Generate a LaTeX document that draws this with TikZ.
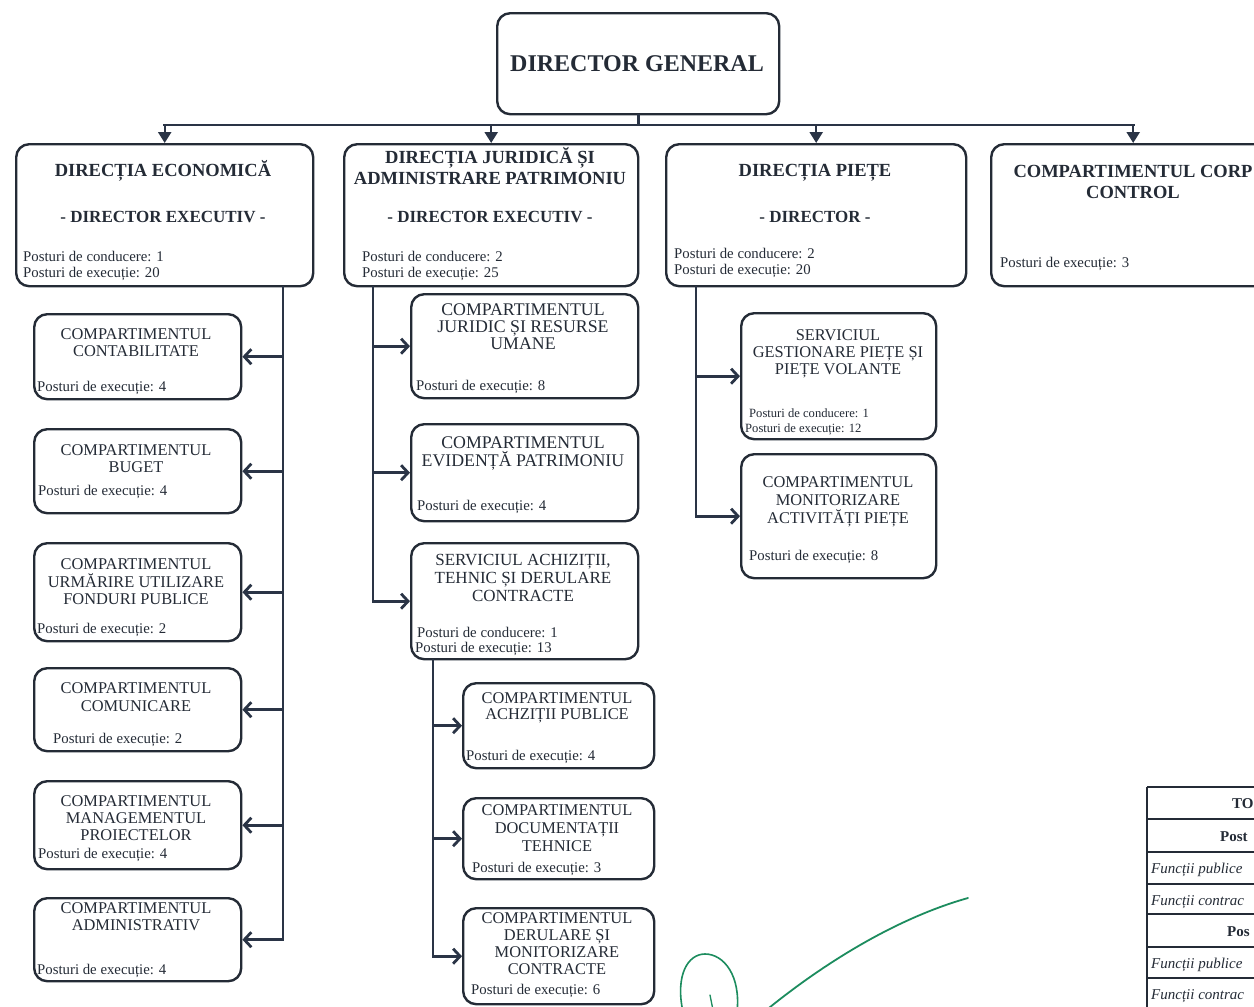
\documentclass[tikz,border=0pt]{standalone}
\usepackage{fontspec}
\setmainfont{Liberation Serif}
\usetikzlibrary{arrows.meta}
\definecolor{ink}{HTML}{242B36}
\definecolor{wirec}{HTML}{2A3446}
\definecolor{penc}{HTML}{1C8C5E}
\newcommand\fs[1]{\fontsize{#1}{#1}\selectfont}
\begin{document}
\begin{tikzpicture}[x=1pt,y=-1pt,
  box/.style={draw=ink,line width=2.4pt,rounded corners=13pt,inner sep=0pt,anchor=north west,fill=white},
  wire/.style={draw=wirec,line width=2.8pt,line cap=rect},
  darr/.style={draw=wirec,line width=2.4pt,-{Triangle[length=11pt,width=13pt]}},
  sarr/.style={draw=wirec,line width=2.8pt,-{Straight Barb[length=7pt,width=15pt]}},
  tabl/.style={draw=ink,line width=1.2pt},
  pen/.style={draw=penc,line cap=round},
  tc/.style={inner sep=0pt,anchor=base,text=ink},
  tw/.style={inner sep=0pt,anchor=base west,text=ink},
  dgf/.style={font=\fs{24}\bfseries},
  big/.style={font=\fs{18.5}\bfseries},
  sub/.style={font=\fs{17}\bfseries},
  pt/.style={font=\fs{14.8}},
  ttl/.style={font=\fs{16.4}},
  ttlb/.style={font=\fs{17.8}},
  ttlm/.style={font=\fs{17}},
  sp/.style={font=\fs{14.8}},
  sps/.style={font=\fs{12.6}},
  tb/.style={font=\fs{15}\bfseries},
  ti/.style={font=\fs{15}\itshape}]
\useasboundingbox (0,0) rectangle (1254,1007);
\clip (0,0) rectangle (1254,1007);
\fill[white] (0,0) rectangle (1254,1007);

% ---------- boxes
\node[box,minimum width=282pt,minimum height=101pt] (dg) at (496,12) {};
\node[box,minimum width=297pt,minimum height=142pt] (econ) at (15,143) {};
\node[box,minimum width=294pt,minimum height=142pt] (jur) at (343,143) {};
\node[box,minimum width=300pt,minimum height=142pt] (piete) at (665,143) {};
\node[box,minimum width=284pt,minimum height=142pt] (corp) at (990,143) {};
\node[box,minimum width=207pt,minimum height=85pt] (contab) at (33,313) {};
\node[box,minimum width=207pt,minimum height=84pt] (buget) at (33,428) {};
\node[box,minimum width=207pt,minimum height=98pt] (urm) at (33,542) {};
\node[box,minimum width=207pt,minimum height=83pt] (comun) at (33,667) {};
\node[box,minimum width=207pt,minimum height=88pt] (manag) at (33,780) {};
\node[box,minimum width=207pt,minimum height=83pt] (admin) at (33,897) {};
\node[box,minimum width=227pt,minimum height=104pt] (juridic) at (410,293) {};
\node[box,minimum width=227pt,minimum height=97pt] (evid) at (410,423) {};
\node[box,minimum width=227pt,minimum height=116pt] (achiz) at (410,542) {};
\node[box,minimum width=191pt,minimum height=85pt] (achzp) at (462,682) {};
\node[box,minimum width=191pt,minimum height=81pt] (docum) at (462,797) {};
\node[box,minimum width=191pt,minimum height=96pt] (derul) at (462,907) {};
\node[box,minimum width=195pt,minimum height=126pt] (serv) at (740,312) {};
\node[box,minimum width=195pt,minimum height=124pt] (monit) at (740,453) {};

% ---------- connectors
\coordinate (bus) at (0,125);
\coordinate (ev) at (283,0);
\coordinate (jv) at (373,0);
\coordinate (av) at (433,0);
\coordinate (pv) at (696,0);
\draw[wire] (dg.south) -- (dg.south |- bus);
\draw[wire] (econ.north |- bus) -- (corp.north |- bus);
\foreach \n in {econ,jur,piete,corp} \draw[darr] (\n.north |- bus) -- (\n.north);
\draw[wire] (econ.south -| ev) -- (ev |- admin.east);
\foreach \n in {contab,buget,urm,comun,manag,admin} \draw[sarr] (ev |- \n.east) -- (\n.east);
\draw[wire] (jur.south -| jv) -- (jv |- achiz.west);
\foreach \n in {juridic,evid,achiz} \draw[sarr] (jv |- \n.west) -- (\n.west);
\draw[wire] (achiz.south -| av) -- (av |- derul.west);
\foreach \n in {achzp,docum,derul} \draw[sarr] (av |- \n.west) -- (\n.west);
\draw[wire] (piete.south -| pv) -- (pv |- monit.west);
\foreach \n in {serv,monit} \draw[sarr] (pv |- \n.west) -- (\n.west);

% ---------- texts: top level
\node[tc,dgf] (dgT) at (637,71) {DIRECTOR GENERAL};

\node[tc,big] (ecT1) at (163,176) {DIRECȚIA ECONOMICĂ};
\node[tc,sub] (ecT2) at (163,222) {- DIRECTOR EXECUTIV -};
\node[tw,pt] (ecP1) at (23,261) {Posturi de conducere: 1};
\node[tw,pt] (ecP2) at (23,277) {Posturi de execuție: 20};

\node[tc,big] (juT1) at (490,163) {DIRECȚIA JURIDICĂ ȘI};
\node[tc,big] (juT2) at (490,184) {ADMINISTRARE PATRIMONIU};
\node[tc,sub] (juT3) at (490,222) {- DIRECTOR EXECUTIV -};
\node[tw,pt] (juP1) at (362,261) {Posturi de conducere: 2};
\node[tw,pt] (juP2) at (362,277) {Posturi de execuție: 25};

\node[tc,big] (piT1) at (815,176) {DIRECȚIA PIEȚE};
\node[tc,sub] (piT2) at (815,222) {- DIRECTOR -};
\node[tw,pt] (piP1) at (674,258) {Posturi de conducere: 2};
\node[tw,pt] (piP2) at (674,274) {Posturi de execuție: 20};

\node[tc,big] (coT1) at (1133,177) {COMPARTIMENTUL CORP};
\node[tc,big] (coT2) at (1133,198) {CONTROL};
\node[tw,pt] (coP1) at (1000,267) {Posturi de execuție: 3};

% ---------- texts: economic column
\node[tc,ttl] (caT1) at (136,339) {COMPARTIMENTUL};
\node[tc,ttl] (caT2) at (136,356) {CONTABILITATE};
\node[tw,sp] (caP) at (37,391) {Posturi de execuție: 4};

\node[tc,ttl] (buT1) at (136,455) {COMPARTIMENTUL};
\node[tc,ttl] (buT2) at (136,472) {BUGET};
\node[tw,sp] (buP) at (38,495) {Posturi de execuție: 4};

\node[tc,ttl] (urT1) at (136,569) {COMPARTIMENTUL};
\node[tc,ttl] (urT2) at (136,587) {URMĂRIRE UTILIZARE};
\node[tc,ttl] (urT3) at (136,604) {FONDURI PUBLICE};
\node[tw,sp] (urP) at (37,633) {Posturi de execuție: 2};

\node[tc,ttl] (cmT1) at (136,693) {COMPARTIMENTUL};
\node[tc,ttl] (cmT2) at (136,711) {COMUNICARE};
\node[tw,sp] (cmP) at (53,743) {Posturi de execuție: 2};

\node[tc,ttl] (mgT1) at (136,806) {COMPARTIMENTUL};
\node[tc,ttl] (mgT2) at (136,823) {MANAGEMENTUL};
\node[tc,ttl] (mgT3) at (136,840) {PROIECTELOR};
\node[tw,sp] (mgP) at (38,858) {Posturi de execuție: 4};

\node[tc,ttl] (adT1) at (136,913) {COMPARTIMENTUL};
\node[tc,ttl] (adT2) at (136,930) {ADMINISTRATIV};
\node[tw,sp] (adP) at (37,974) {Posturi de execuție: 4};

% ---------- texts: juridic column
\node[tc,ttlb] (jrT1) at (523,315) {COMPARTIMENTUL};
\node[tc,ttlb] (jrT2) at (523,332) {JURIDIC ȘI RESURSE};
\node[tc,ttlb] (jrT3) at (523,349) {UMANE};
\node[tw,sp] (jrP) at (416,390) {Posturi de execuție: 8};

\node[tc,ttlb] (evT1) at (523,448) {COMPARTIMENTUL};
\node[tc,ttlb] (evT2) at (523,466) {EVIDENȚĂ PATRIMONIU};
\node[tw,sp] (evP) at (417,510) {Posturi de execuție: 4};

\node[tc,ttlm] (acT1) at (523,565) {SERVICIUL ACHIZIȚII,};
\node[tc,ttlm] (acT2) at (523,583) {TEHNIC ȘI DERULARE};
\node[tc,ttlm] (acT3) at (523,601) {CONTRACTE};
\node[tw,sp] (acP1) at (417,637) {Posturi de conducere: 1};
\node[tw,sp] (acP2) at (415,652) {Posturi de execuție: 13};

\node[tc,ttl] (apT1) at (557,703) {COMPARTIMENTUL};
\node[tc,ttl] (apT2) at (557,719) {ACHZIȚII PUBLICE};
\node[tw,sp] (apP) at (466,760) {Posturi de execuție: 4};

\node[tc,ttl] (doT1) at (557,815) {COMPARTIMENTUL};
\node[tc,ttl] (doT2) at (557,833) {DOCUMENTAȚII};
\node[tc,ttl] (doT3) at (557,851) {TEHNICE};
\node[tw,sp] (doP) at (472,872) {Posturi de execuție: 3};

\node[tc,ttl] (deT1) at (557,923) {COMPARTIMENTUL};
\node[tc,ttl] (deT2) at (557,940) {DERULARE ȘI};
\node[tc,ttl] (deT3) at (557,957) {MONITORIZARE};
\node[tc,ttl] (deT4) at (557,974) {CONTRACTE};
\node[tw,sp] (deP) at (471,994) {Posturi de execuție: 6};

% ---------- texts: piete column
\node[tc,ttl] (seT1) at (838,340) {SERVICIUL};
\node[tc,ttl] (seT2) at (838,357) {GESTIONARE PIEȚE ȘI};
\node[tc,ttl] (seT3) at (838,374) {PIEȚE VOLANTE};
\node[tw,sps] (seP1) at (749,417) {Posturi de conducere: 1};
\node[tw,sps] (seP2) at (745,432) {Posturi de execuție: 12};

\node[tc,ttl] (moT1) at (838,487) {COMPARTIMENTUL};
\node[tc,ttl] (moT2) at (838,505) {MONITORIZARE};
\node[tc,ttl] (moT3) at (838,523) {ACTIVITĂȚI PIEȚE};
\node[tw,sp] (moP) at (749,560) {Posturi de execuție: 8};

% ---------- table (cut by the edge)
\draw[tabl] (1147,787) -- (1147,1012);
\foreach \y in {787,819,852,884,914,947,978} \draw[tabl] (1147,\y) -- (1260,\y);
\node[tw,tb] (tbA) at (1232,808) {TO};
\node[tw,tb] (tbB) at (1220,841) {Post};
\node[tw,ti] (tbC) at (1151,873) {Funcții publice};
\node[tw,ti] (tbD) at (1151,905) {Funcții contrac};
\node[tw,tb] (tbE) at (1227,936) {Pos};
\node[tw,ti] (tbF) at (1151,968) {Funcții publice};
\node[tw,ti] (tbG) at (1151,999) {Funcții contrac};

% ---------- green pen marks
\draw[pen,line width=1.6pt] (683,1012) .. controls (675,975) and (688,954) .. (705,954) .. controls (724,954) and (741,976) .. (737,1012);
\draw[pen,line width=1.3pt] (710,995) -- (713,1010);
\draw[pen,line width=1.8pt] (764,1012) .. controls (815,970) and (890,920) .. (968,898);
\end{tikzpicture}
\end{document}
